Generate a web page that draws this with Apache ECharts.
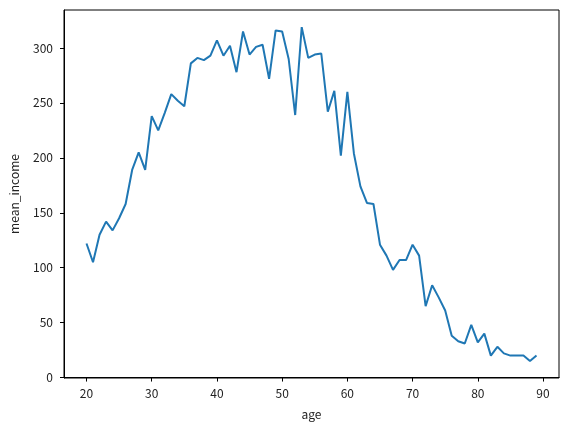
<!DOCTYPE html>
<html>
<head>
<meta charset="utf-8">
<script src="https://cdn.jsdelivr.net/npm/echarts@6/dist/echarts.min.js"></script>
<style>
  html, body { margin: 0; padding: 0; background: #fff; }
  #chart { width: 569px; height: 430px; }
</style>
</head>
<body>
<div id="chart"></div>
<script>
// ages 20..89 and mean income
const ages = []
for (let a = 20; a <= 89; a++) ages.push(a)
const meanIncome = [
  122, 105, 130, 142, 134, 145, 158, 189, 205, 189,
  238, 225, 241, 258, 252, 247, 286, 291, 289, 293,
  307, 293, 302, 278, 315, 294, 301, 303, 272, 316,
  315, 290, 239, 319, 291, 294, 295, 242, 261, 202,
  260, 204, 174, 159, 158, 121, 111, 98, 107, 107,
  121, 111, 65, 84, 73, 61, 38, 33, 31, 48,
  32, 40, 20, 28, 22, 20, 20, 20, 15, 20
]
const xTicks = [20, 30, 40, 50, 60, 70, 80, 90]
const yTicks = [0, 50, 100, 150, 200, 250, 300]

const font = "'Noto Sans CJK KR', 'Open Sans', sans-serif"
const chart = echarts.init(document.getElementById('chart'))

let option = {
  animation: false,
  grid: {
    left: 64,
    right: 10,
    top: 10,
    bottom: 52,
    show: true,
    borderColor: '#000',
    borderWidth: 1
  },
  xAxis: {
    type: 'value',
    min: 16.55,
    max: 92.45,
    name: 'age',
    nameLocation: 'middle',
    nameGap: 30,
    nameTextStyle: { color: '#222', fontSize: 12, fontFamily: font },
    axisLine: { show: true, lineStyle: { color: '#000', width: 1 } },
    axisTick: { show: true, length: 4, customValues: xTicks, lineStyle: { color: '#000' } },
    axisLabel: { customValues: xTicks, margin: 9, color: '#222', fontSize: 12, fontFamily: font },
    splitLine: { show: false }
  },
  yAxis: {
    type: 'value',
    min: -0.4,
    max: 334.6,
    name: 'mean_income',
    nameLocation: 'middle',
    nameGap: 44,
    nameTextStyle: { color: '#222', fontSize: 12, fontFamily: font },
    axisLine: { show: true, lineStyle: { color: '#000', width: 1 } },
    axisTick: { show: true, length: 4, customValues: yTicks, lineStyle: { color: '#000' } },
    axisLabel: { customValues: yTicks, margin: 11, color: '#222', fontSize: 12, fontFamily: font },
    splitLine: { show: false }
  },
  series: [
    {
      type: 'line',
      data: ages.map((a, i) => [a, meanIncome[i]]),
      showSymbol: false,
      lineStyle: { color: '#1f77b4', width: 2 },
      clip: false
    }
  ]
}
chart.setOption(option)
</script>
</body>
</html>
